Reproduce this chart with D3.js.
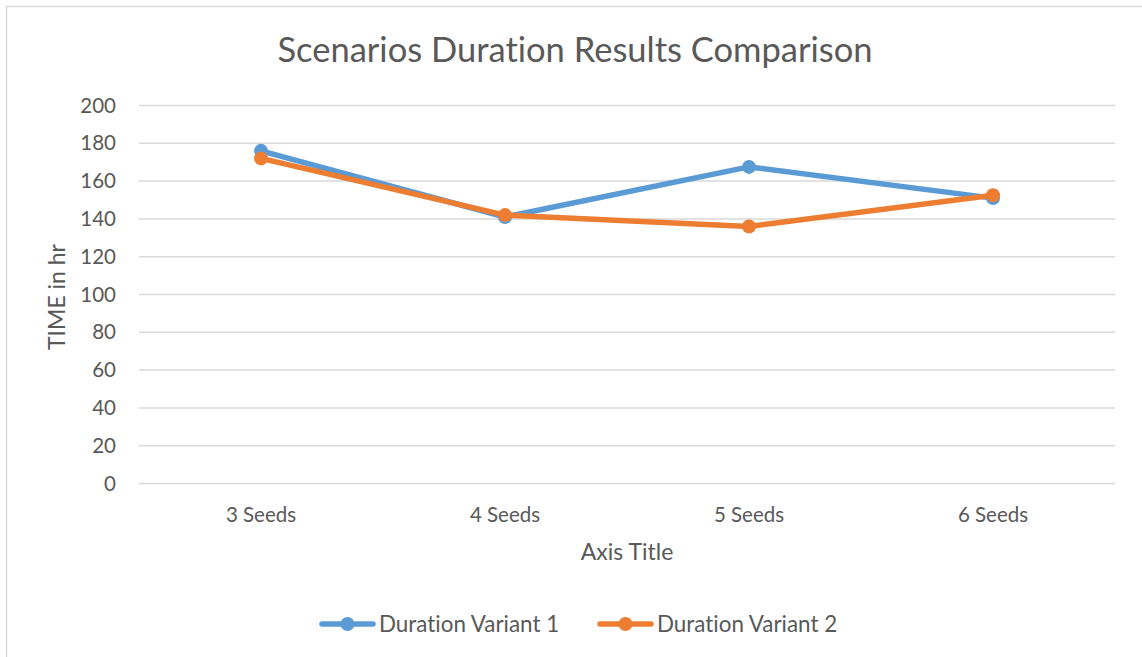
<!DOCTYPE html>
<html>
<head>
<meta charset="utf-8">
<script src="https://cdn.jsdelivr.net/npm/d3@7.9.0/dist/d3.min.js"></script>
<style>
  body { margin: 0; background: #fff; }
  svg { display: block; font-family: Lato, "Open Sans", sans-serif; font-variant-ligatures: none; }
</style>
</head>
<body>
<svg width="1142" height="657"></svg>
<script>
const categories = ["3 Seeds", "4 Seeds", "5 Seeds", "6 Seeds"];
const variant1 = [176, 141, 167.5, 151];
const variant2 = [172, 142, 136, 152.5];
const yTicks = [0, 20, 40, 60, 80, 100, 120, 140, 160, 180, 200];
const seriesNames = ["Duration Variant 1", "Duration Variant 2"];
const colors = ["#5b9bd5", "#ed7d31"];

const svg = d3.select("svg");

// chart area border
svg.append("rect")
  .attr("x", 6.5).attr("y", 6.5)
  .attr("width", 1160).attr("height", 680)
  .attr("fill", "none")
  .attr("stroke", "#d9d9d9")
  .attr("stroke-width", 1.5);

const x = d3.scaleBand().domain(categories).range([139, 1115]);
const y = d3.scaleLinear().domain([0, 200]).range([483.5, 105.5]);

// gridlines
svg.append("g")
  .selectAll("line")
  .data(yTicks)
  .join("line")
  .attr("x1", 139).attr("x2", 1115)
  .attr("y1", d => y(d)).attr("y2", d => y(d))
  .attr("stroke", "#d9d9d9")
  .attr("stroke-width", 1.5);

// y tick labels
svg.append("g")
  .selectAll("text")
  .data(yTicks)
  .join("text")
  .attr("x", 116)
  .attr("y", d => y(d))
  .attr("dy", "0.35em")
  .attr("text-anchor", "end")
  .attr("fill", "#595959")
  .attr("font-size", 20.5)
  .text(d => d);

// x tick labels
svg.append("g")
  .selectAll("text")
  .data(categories)
  .join("text")
  .attr("x", d => x(d) + x.bandwidth() / 2)
  .attr("y", 522)
  .attr("text-anchor", "middle")
  .attr("fill", "#595959")
  .attr("font-size", 20.5)
  .text(d => d);

// title
svg.append("text")
  .attr("x", 575).attr("y", 62)
  .attr("text-anchor", "middle")
  .attr("fill", "#595959")
  .attr("font-size", 34.5)
  .text("Scenarios Duration Results Comparison");

// axis titles
svg.append("text")
  .attr("x", 627).attr("y", 560)
  .attr("text-anchor", "middle")
  .attr("fill", "#595959")
  .attr("font-size", 23)
  .text("Axis Title");

svg.append("text")
  .attr("transform", "translate(65,297) rotate(-90)")
  .attr("text-anchor", "middle")
  .attr("fill", "#595959")
  .attr("font-size", 23)
  .text("TIME in hr");

const line = d3.line()
  .x((d, i) => x(categories[i]) + x.bandwidth() / 2)
  .y(d => y(d));

[variant1, variant2].forEach((vals, s) => {
  const g = svg.append("g");
  g.append("path")
    .attr("d", line(vals))
    .attr("fill", "none")
    .attr("stroke", colors[s])
    .attr("stroke-width", 5.5)
    .attr("stroke-linejoin", "round")
    .attr("stroke-linecap", "round");
  g.selectAll("circle")
    .data(vals)
    .join("circle")
    .attr("cx", (d, i) => x(categories[i]) + x.bandwidth() / 2)
    .attr("cy", d => y(d))
    .attr("r", 7)
    .attr("fill", colors[s]);
});

// legend
const legendX = [322, 600];
seriesNames.forEach((name, s) => {
  const g = svg.append("g").attr("transform", `translate(${legendX[s]},624)`);
  g.append("line")
    .attr("x1", 0).attr("x2", 51)
    .attr("stroke", colors[s])
    .attr("stroke-width", 5.5)
    .attr("stroke-linecap", "round");
  g.append("circle").attr("cx", 25.5).attr("r", 7).attr("fill", colors[s]);
  g.append("text")
    .attr("x", 57).attr("dy", "0.35em")
    .attr("fill", "#595959")
    .attr("font-size", 22.4)
    .text(name);
});
</script>
</body>
</html>
